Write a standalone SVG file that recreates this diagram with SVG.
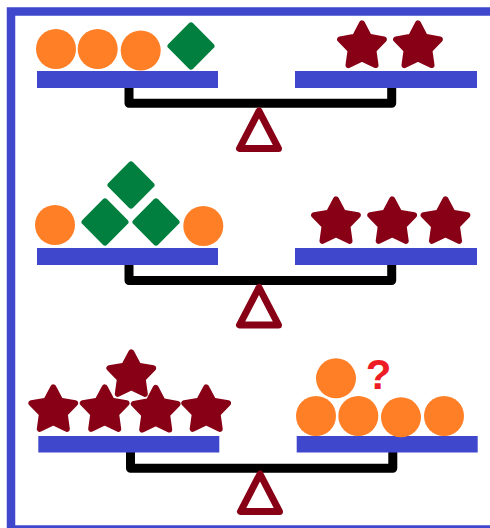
<svg xmlns="http://www.w3.org/2000/svg" width="490" height="528" viewBox="0 0 490 528">
<style>
.frame{fill:none;stroke:#3F48CC;stroke-width:8.5}
.bar{fill:#3F48CC}
.beam{fill:none;stroke:#000;stroke-width:9;stroke-linejoin:round}
.fulcrum{fill:none;stroke:#880015;stroke-width:7;stroke-linejoin:round}
.ball{fill:#FF7F27}
.gem{fill:#007F3E}
.star{fill:#880015;stroke:#880015;stroke-width:6;stroke-linejoin:round}
.q{fill:#ED1C24;font-family:"Liberation Sans",Arial,sans-serif;font-weight:bold;font-size:42px;text-anchor:middle}
</style>
<defs>
<path id="st" d="M0,-23 L7.05,-9.71 L21.87,-7.11 L11.41,3.71 L13.52,18.61 L0,12 L-13.52,18.61 L-11.41,3.71 L-21.87,-7.11 L-7.05,-9.71 Z"/>
<rect id="dm" x="-17.5" y="-17.5" width="35" height="35" rx="3" transform="rotate(45)"/>
</defs>
<rect class="frame" x="11" y="11.5" width="492" height="518"/>
<g id="connectors">
<path class="beam" d="M129,88 V103.3 H391.7 V88"/>
<path class="beam" d="M129,265 V280.5 H391.7 V265"/>
<path class="beam" d="M130.5,452 V468.3 H392.8 V452"/>
</g>
<g id="scale1">
<rect class="bar" x="37" y="71" width="181" height="17"/>
<rect class="bar" x="295" y="71" width="182" height="17"/>
<polygon class="fulcrum" points="259,111 239.5,148.5 278.5,148.5"/>
<circle class="ball" cx="56" cy="49" r="20"/>
<circle class="ball" cx="97.7" cy="49" r="20"/>
<circle class="ball" cx="140.7" cy="50.5" r="20"/>
<use href="#dm" class="gem" x="191" y="46"/>
<use href="#st" class="star" x="362" y="46.5"/>
<use href="#st" class="star" x="418" y="46.5"/>
</g>
<g id="scale2">
<rect class="bar" x="37" y="248" width="181" height="17"/>
<rect class="bar" x="295" y="248" width="182" height="17"/>
<polygon class="fulcrum" points="259,287.5 239.5,325 278.5,325"/>
<circle class="ball" cx="55" cy="225" r="20"/>
<circle class="ball" cx="203.3" cy="226" r="20"/>
<use href="#dm" class="gem" x="105" y="222"/>
<use href="#dm" class="gem" x="156" y="222"/>
<use href="#dm" class="gem" x="131" y="185"/>
<use href="#st" class="star" x="336" y="222.3"/>
<use href="#st" class="star" x="392.2" y="222.3"/>
<use href="#st" class="star" x="445.5" y="222.3"/>
</g>
<g id="scale3">
<rect class="bar" x="38.3" y="436" width="181" height="16.5"/>
<rect class="bar" x="296.7" y="436" width="181" height="16.5"/>
<polygon class="fulcrum" points="260,474 240.5,511.5 279.5,511.5"/>
<use href="#st" class="star" x="131.3" y="375.3"/>
<use href="#st" class="star" x="53.3" y="410.3"/>
<use href="#st" class="star" x="104.7" y="410.3"/>
<use href="#st" class="star" x="155.7" y="411"/>
<use href="#st" class="star" x="206.2" y="410.3"/>
<circle class="ball" cx="336" cy="378.3" r="20"/>
<circle class="ball" cx="316" cy="416" r="20"/>
<circle class="ball" cx="358.3" cy="416" r="20"/>
<circle class="ball" cx="401" cy="417.3" r="20"/>
<circle class="ball" cx="444" cy="416" r="20"/>
<text class="q" x="378.5" y="388.5">?</text>
</g>
</svg>
